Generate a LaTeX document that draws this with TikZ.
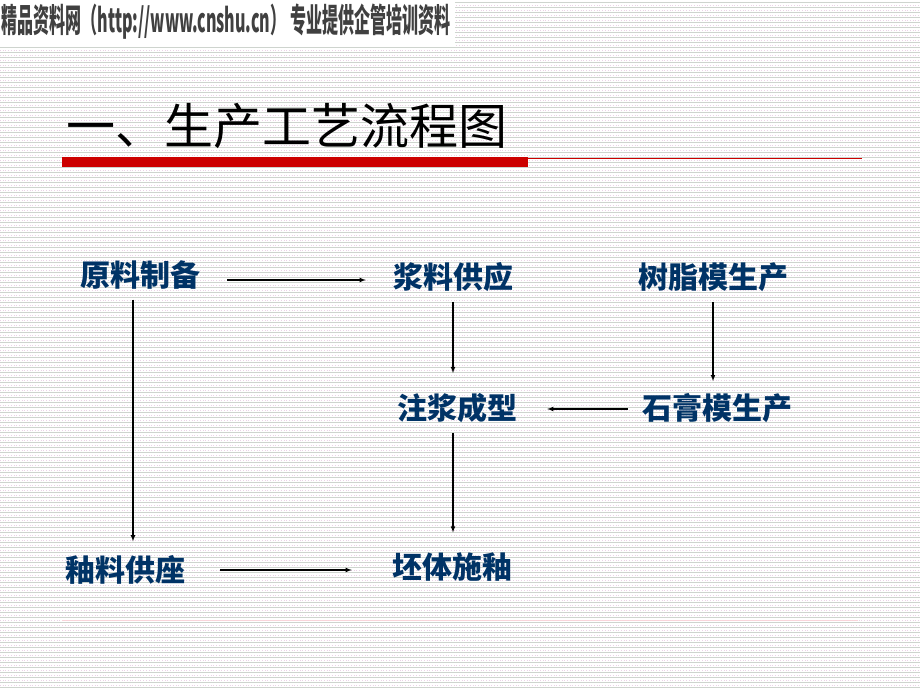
\documentclass[tikz,border=0pt]{standalone}
\usepackage{fontspec}
\newfontfamily\cjk{Noto Sans CJK SC}
\definecolor{flowblue}{RGB}{0,51,102}
\definecolor{barred}{RGB}{204,0,0}
\definecolor{stripe}{RGB}{206,212,206}
\definecolor{dotpink}{RGB}{234,210,230}
\tikzset{
  stage/.style={inner sep=0pt, text=flowblue, font=\cjk\bfseries\fontsize{30}{30}\selectfont},
  flow/.style={line width=1.1pt, -latex}
}
\begin{document}
\begin{tikzpicture}[x=1pt,y=-1pt]
\useasboundingbox (0,0) rectangle (920,690);
\fill[white] (0,0) rectangle (920,690);
% striped background
\foreach \y in {2.5,7.5,...,690}
\draw[stripe, line width=1pt] (0,\y) -- (920,\y);
\foreach \y in {5,10,...,690}
\draw[dotpink, dotted, line width=0.7pt] (0,\y) -- (920,\y);
\fill[white] (0,0) rectangle (455,46);

\node[inner sep=0pt, text=black!75, font=\cjk\bfseries\fontsize{33}{33}\selectfont] (head) at (226,22)
  {\scalebox{0.485}[1]{精品资料网（http://www.cnshu.cn） 专业提供企管培训资料}};

\node[anchor=west, inner sep=0pt, font=\cjk\fontsize{49}{49}\selectfont] (title) at (66,126) {一、生产工艺流程图};
\fill[barred] (62,157) rectangle (528,167);
\draw[barred, line width=1pt] (528,158) -- (862,158);
\draw[dotpink!70!red!40, line width=1pt] (62,620) -- (858,620);

\node[stage] (yuanliao) at (140,275) {原料制备};
\node[stage] (jiangliao) at (453,277) {浆料供应};
\node[stage] (shuzhi) at (713,277) {树脂模生产};
\node[stage] (zhujiang) at (457,408) {注浆成型};
\node[stage] (shigao) at (717,408) {石膏模生产};
\node[stage] (youliao) at (125,570) {釉料供座};
\node[stage] (peiti) at (452,567) {坯体施釉};

\draw[flow, shorten <=27pt, shorten >=27pt] (yuanliao.east |- 0,280) -- (jiangliao.west |- 0,280);
\draw[flow, shorten <=10pt, shorten >=14pt] ([xshift=-7pt]yuanliao.south) -- ([xshift=-7pt]yuanliao.south |- youliao.north);
\draw[flow, shorten <=10pt, shorten >=20pt] (jiangliao.south) -- (jiangliao.south |- zhujiang.north);
\draw[flow, shorten <=10pt, shorten >=12pt] (shuzhi.south) -- (shuzhi.south |- shigao.north);
\draw[flow, shorten <=14pt, shorten >=30pt] (shigao.west |- 0,409) -- (zhujiang.east |- 0,409);
\draw[flow, shorten <=10pt, shorten >=20pt] ([xshift=-4pt]zhujiang.south) -- ([xshift=-4pt]zhujiang.south |- peiti.north);
\draw[flow, shorten <=35pt, shorten >=40pt] (youliao.east |- 0,570) -- (peiti.west |- 0,570);
\end{tikzpicture}
\end{document}
